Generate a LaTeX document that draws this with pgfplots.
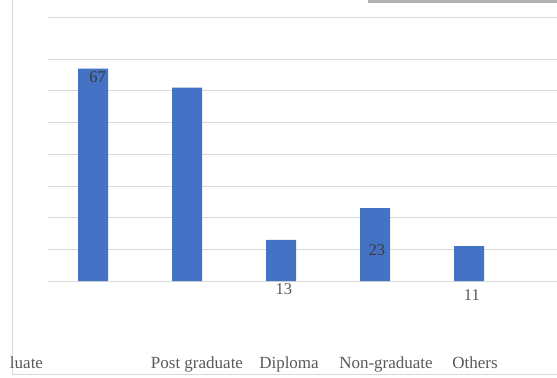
\documentclass[border=0pt]{standalone}
\usepackage{pgfplots}
\pgfplotsset{compat=1.18}
\usepackage{fontspec}
\setmainfont{Liberation Serif}
\definecolor{barblue}{HTML}{4472C4}
\definecolor{gridgray}{HTML}{D9D9D9}
\definecolor{labgray}{HTML}{595959}
\definecolor{darklab}{HTML}{3A3A3A}
\begin{document}
\begin{tikzpicture}
\useasboundingbox (-48bp,-97bp) rectangle (509bp,281bp);
% chart frame remnants
\draw[gridgray, line width=0.8bp] (-36bp,281bp) -- (-36bp,-93bp) -- (509bp,-93bp);
\fill[gray!60] (320bp,281bp) rectangle (509bp,278bp);
\begin{axis}[
  at={(0,0)}, anchor=south west,
  scale only axis, width=509bp, height=264bp,
  xmin=-0.479, xmax=4.936, ymin=0, ymax=83.3,
  ybar, bar width=30bp,
  axis line style={draw=none},
  ytick={0,10,20,30,40,50,60,70,83.3},
  yticklabels={},
  ymajorgrids, major grid style={gridgray, line width=0.8bp},
  tick style={draw=none},
  xtick={0,1.106,2.085,3.117,4.064},
  xticklabels={{\llap{luate\hspace{50bp}}},Post graduate,Diploma,Non-graduate,Others},
  xticklabel style={anchor=base, yshift=-83bp, text=labgray, font=\fontsize{17bp}{19bp}\selectfont},
  clip=false,
]
\addplot[fill=barblue, draw=none] coordinates {(0,67) (1,61) (2,13) (3,23) (4,11)};
\node[text=darklab, font=\fontsize{16.5bp}{18bp}\selectfont] at (axis cs:0.05,64.4) {67};
\node[text=labgray, font=\fontsize{16.5bp}{18bp}\selectfont] at (axis cs:2.03,-2.6) {13};
\node[text=darklab, font=\fontsize{16.5bp}{18bp}\selectfont] at (axis cs:3.02,9.8) {23};
\node[text=labgray, font=\fontsize{16.5bp}{18bp}\selectfont] at (axis cs:4.03,-4.5) {11};
\end{axis}
\end{tikzpicture}
\end{document}
